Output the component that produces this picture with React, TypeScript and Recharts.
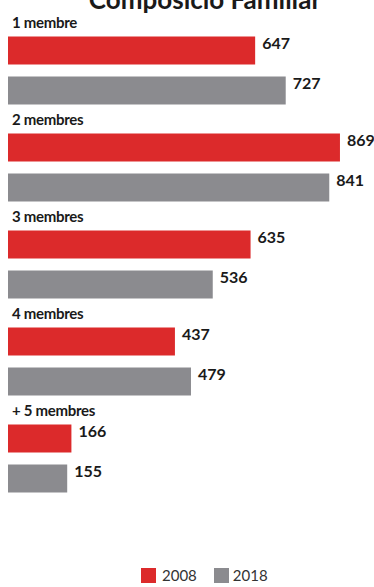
import React from "react";
import { BarChart, Bar, XAxis, YAxis, LabelList } from "recharts";

const categories = ["1 membre", "2 membres", "3 membres", "4 membres", "+ 5 membres"];
const values2008 = [647, 869, 635, 437, 166];
const values2018 = [727, 841, 536, 479, 155];
const seriesNames = ["2008", "2018"];
const title = "Composició Familiar";

const RED = "#dc2a2b";
const GRAY = "#8b8b8f";

const data = categories.map((name, i) => ({
  name,
  s2008: values2008[i],
  s2018: values2018[i],
}));

const ValueLabel = (props: any) => {
  const { x, y, width, value } = props;
  return (
    <text
      x={Number(x) + Number(width) + 7}
      y={Number(y) + 12}
      fontFamily="Lato"
      fontWeight={700}
      fontSize={16}
      fill="#1a1a1a"
    >
      {value}
    </text>
  );
};

const CatLabel = (props: any) => {
  const { x, y, value } = props;
  return (
    <text
      x={Number(x) + 4}
      y={Number(y) - 9}
      fontFamily="Lato"
      fontWeight={700}
      fontSize={15}
      letterSpacing={-0.3}
      fill="#1a1a1a"
    >
      {value}
    </text>
  );
};

export default function App() {
  return (
    <div style={{ position: "absolute", left: 0, top: 0, width: 374, height: 587, background: "#fff", overflow: "hidden" }}>
      <svg width={374} height={30} style={{ position: "absolute", left: 0, top: 0 }}>
        <text x={205} y={9} textAnchor="middle" fontFamily="Lato" fontWeight={700} fontSize={26} fill="#1a1a1a">
          {title}
        </text>
      </svg>
      <BarChart
        width={374}
        height={587}
        data={data}
        layout="vertical"
        margin={{ top: 21.5, right: 22.2, left: 8, bottom: 80.5 }}
        barSize={28}
        barGap={12}
      >
        <XAxis type="number" domain={[0, 900]} hide />
        <YAxis type="category" dataKey="name" hide />
        <Bar dataKey="s2008" fill={RED} isAnimationActive={false}>
          <LabelList dataKey="s2008" content={ValueLabel} />
          <LabelList dataKey="name" content={CatLabel} />
        </Bar>
        <Bar dataKey="s2018" fill={GRAY} isAnimationActive={false}>
          <LabelList dataKey="s2018" content={ValueLabel} />
        </Bar>
      </BarChart>
      <div
        style={{
          position: "absolute",
          top: 568,
          left: 141,
          display: "flex",
          alignItems: "center",
          fontFamily: "Lato",
          fontSize: 15,
          color: "#333",
          lineHeight: "15px",
        }}
      >
        <span style={{ width: 15, height: 15, background: RED, display: "inline-block" }} />
        <span style={{ marginLeft: 6 }}>{seriesNames[0]}</span>
        <span style={{ width: 15, height: 15, background: GRAY, display: "inline-block", marginLeft: 17 }} />
        <span style={{ marginLeft: 4 }}>{seriesNames[1]}</span>
      </div>
    </div>
  );
}
